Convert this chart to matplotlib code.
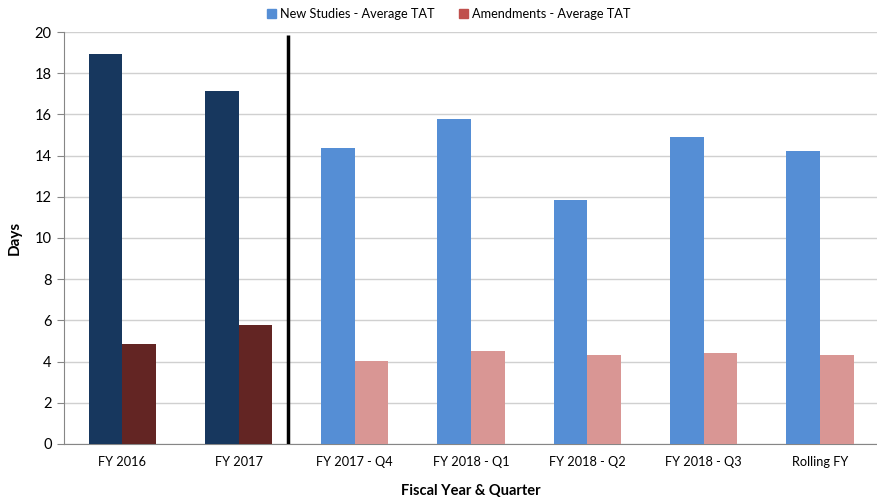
import numpy as np
import matplotlib.pyplot as plt
from matplotlib.patches import Patch

categories = ["FY 2016", "FY 2017", "FY 2017 - Q4", "FY 2018 - Q1",
              "FY 2018 - Q2", "FY 2018 - Q3", "Rolling FY"]
new_studies = [18.95, 17.15, 14.37, 15.78, 11.85, 14.92, 14.22]
amendments = [4.85, 5.78, 4.03, 4.51, 4.32, 4.42, 4.32]
yticks = [0, 2, 4, 6, 8, 10, 12, 14, 16, 18, 20]

plt.rcParams['font.family'] = ['Lato', 'DejaVu Sans']

fig = plt.figure(figsize=(8.78, 5.01), dpi=100)
ax = fig.add_axes([0.073, 0.114, 0.927, 0.822])

x = np.arange(len(categories))
w = 0.29
blue_cols = ['#17375E'] * 2 + ['#558ED5'] * 5
red_cols = ['#632523'] * 2 + ['#D99694'] * 5
ax.bar(x - w / 2, new_studies, w, color=blue_cols, zorder=3)
ax.bar(x + w / 2, amendments, w, color=red_cols, zorder=3)

# separator between annual and quarterly figures
ax.vlines(1.43, 0, 19.85, color='black', lw=2.5, zorder=4)

ax.set_xlim(-0.5, len(categories) - 0.5)
ax.set_ylim(0, 20)
ax.set_yticks(yticks)
ax.set_xticks(x)
ax.set_xticklabels(categories)
ax.tick_params(axis='x', length=0, pad=9, labelsize=9.2)
ax.tick_params(axis='y', length=5, color='#868686', labelsize=10.5, pad=4)
ax.grid(axis='y', color='#D0D0D0', lw=1, zorder=0)
for s in ['top', 'right']:
    ax.spines[s].set_visible(False)
ax.spines['left'].set_color('#868686')
ax.spines['bottom'].set_color('#868686')

ax.set_xlabel("Fiscal Year & Quarter", fontsize=10.5, fontweight='bold', labelpad=11)
ax.set_ylabel("Days", fontsize=11, fontweight='bold', labelpad=9)

handles = [Patch(color='#558ED5', label='New Studies - Average TAT'),
           Patch(color='#C0504D', label='Amendments - Average TAT')]
fig.legend(handles=handles, loc='center', bbox_to_anchor=(0.511, 0.972), ncol=2,
           frameon=False, fontsize=9.2, handlelength=0.75, handleheight=0.75,
           handletextpad=0.3, columnspacing=1.9)

fig.savefig('out.png', dpi=100)
